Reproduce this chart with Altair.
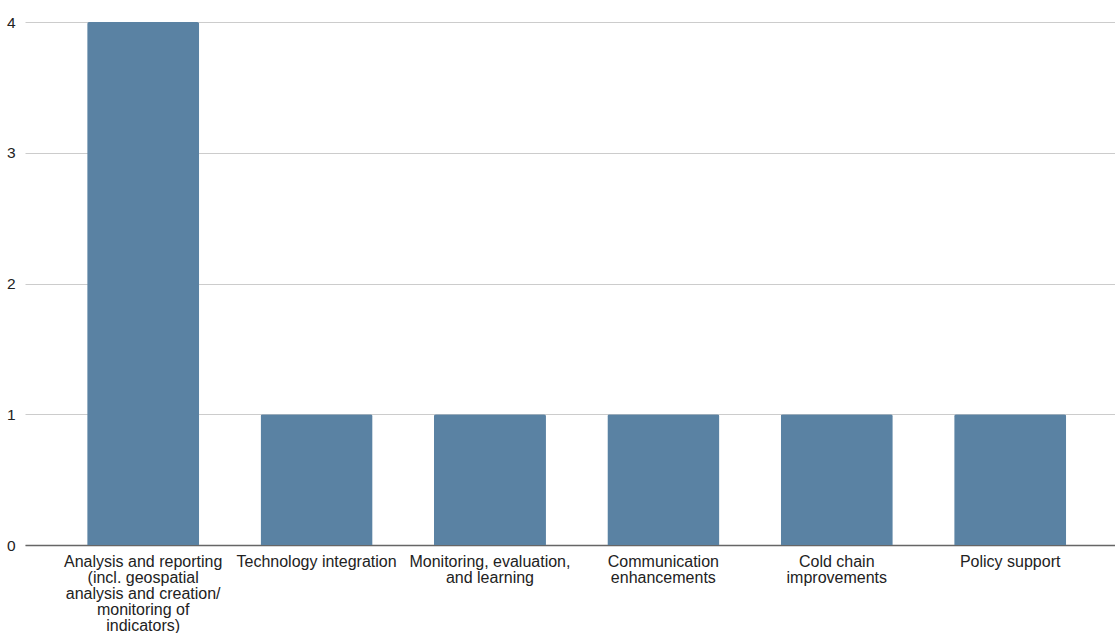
import altair as alt
import pandas as pd

categories = [
    "Analysis and reporting\n(incl. geospatial\nanalysis and creation/\nmonitoring of\nindicators)",
    "Technology integration",
    "Monitoring, evaluation,\nand learning",
    "Communication\nenhancements",
    "Cold chain\nimprovements",
    "Policy support",
]
counts = [4, 1, 1, 1, 1, 1]
y_ticks = [0, 1, 2, 3, 4]

df = pd.DataFrame({"category": categories, "count": counts})

chart = (
    alt.Chart(df)
    .mark_bar(color="#5a82a3", cornerRadiusTopLeft=2, cornerRadiusTopRight=2)
    .encode(
        x=alt.X(
            "category:N",
            sort=categories,
            title=None,
            scale=alt.Scale(paddingInner=0.354, paddingOuter=0.32, align=0.56),
            axis=alt.Axis(
                labelAngle=0,
                labelExpr="split(datum.value, '\\n')",
                labelFont="Liberation Sans",
                labelFontSize=16,
                labelLineHeight=16,
                labelColor="#222222",
                labelPadding=8,
                labelLimit=0,
                labelOverlap=False,
                ticks=False,
                domainColor="#666666",
                domainWidth=1.5,
                grid=False,
            ),
        ),
        y=alt.Y(
            "count:Q",
            title=None,
            scale=alt.Scale(domain=[0, 4], nice=False),
            axis=alt.Axis(
                values=y_ticks,
                format="d",
                labelFont="Liberation Sans",
                labelFontSize=15.5,
                labelColor="#222222",
                labelPadding=10,
                ticks=False,
                domain=False,
                gridColor="#cccccc",
                gridWidth=1,
            ),
        ),
    )
    .properties(
        width=1090,
        height=523,
        autosize=alt.AutoSizeParams(type="none"),
        padding={"left": 25, "top": 22, "right": 0, "bottom": 88},
        background="white",
    )
    .configure_view(stroke=None)
)

chart.save("out.html", embed_options={"renderer": "svg", "actions": False})
